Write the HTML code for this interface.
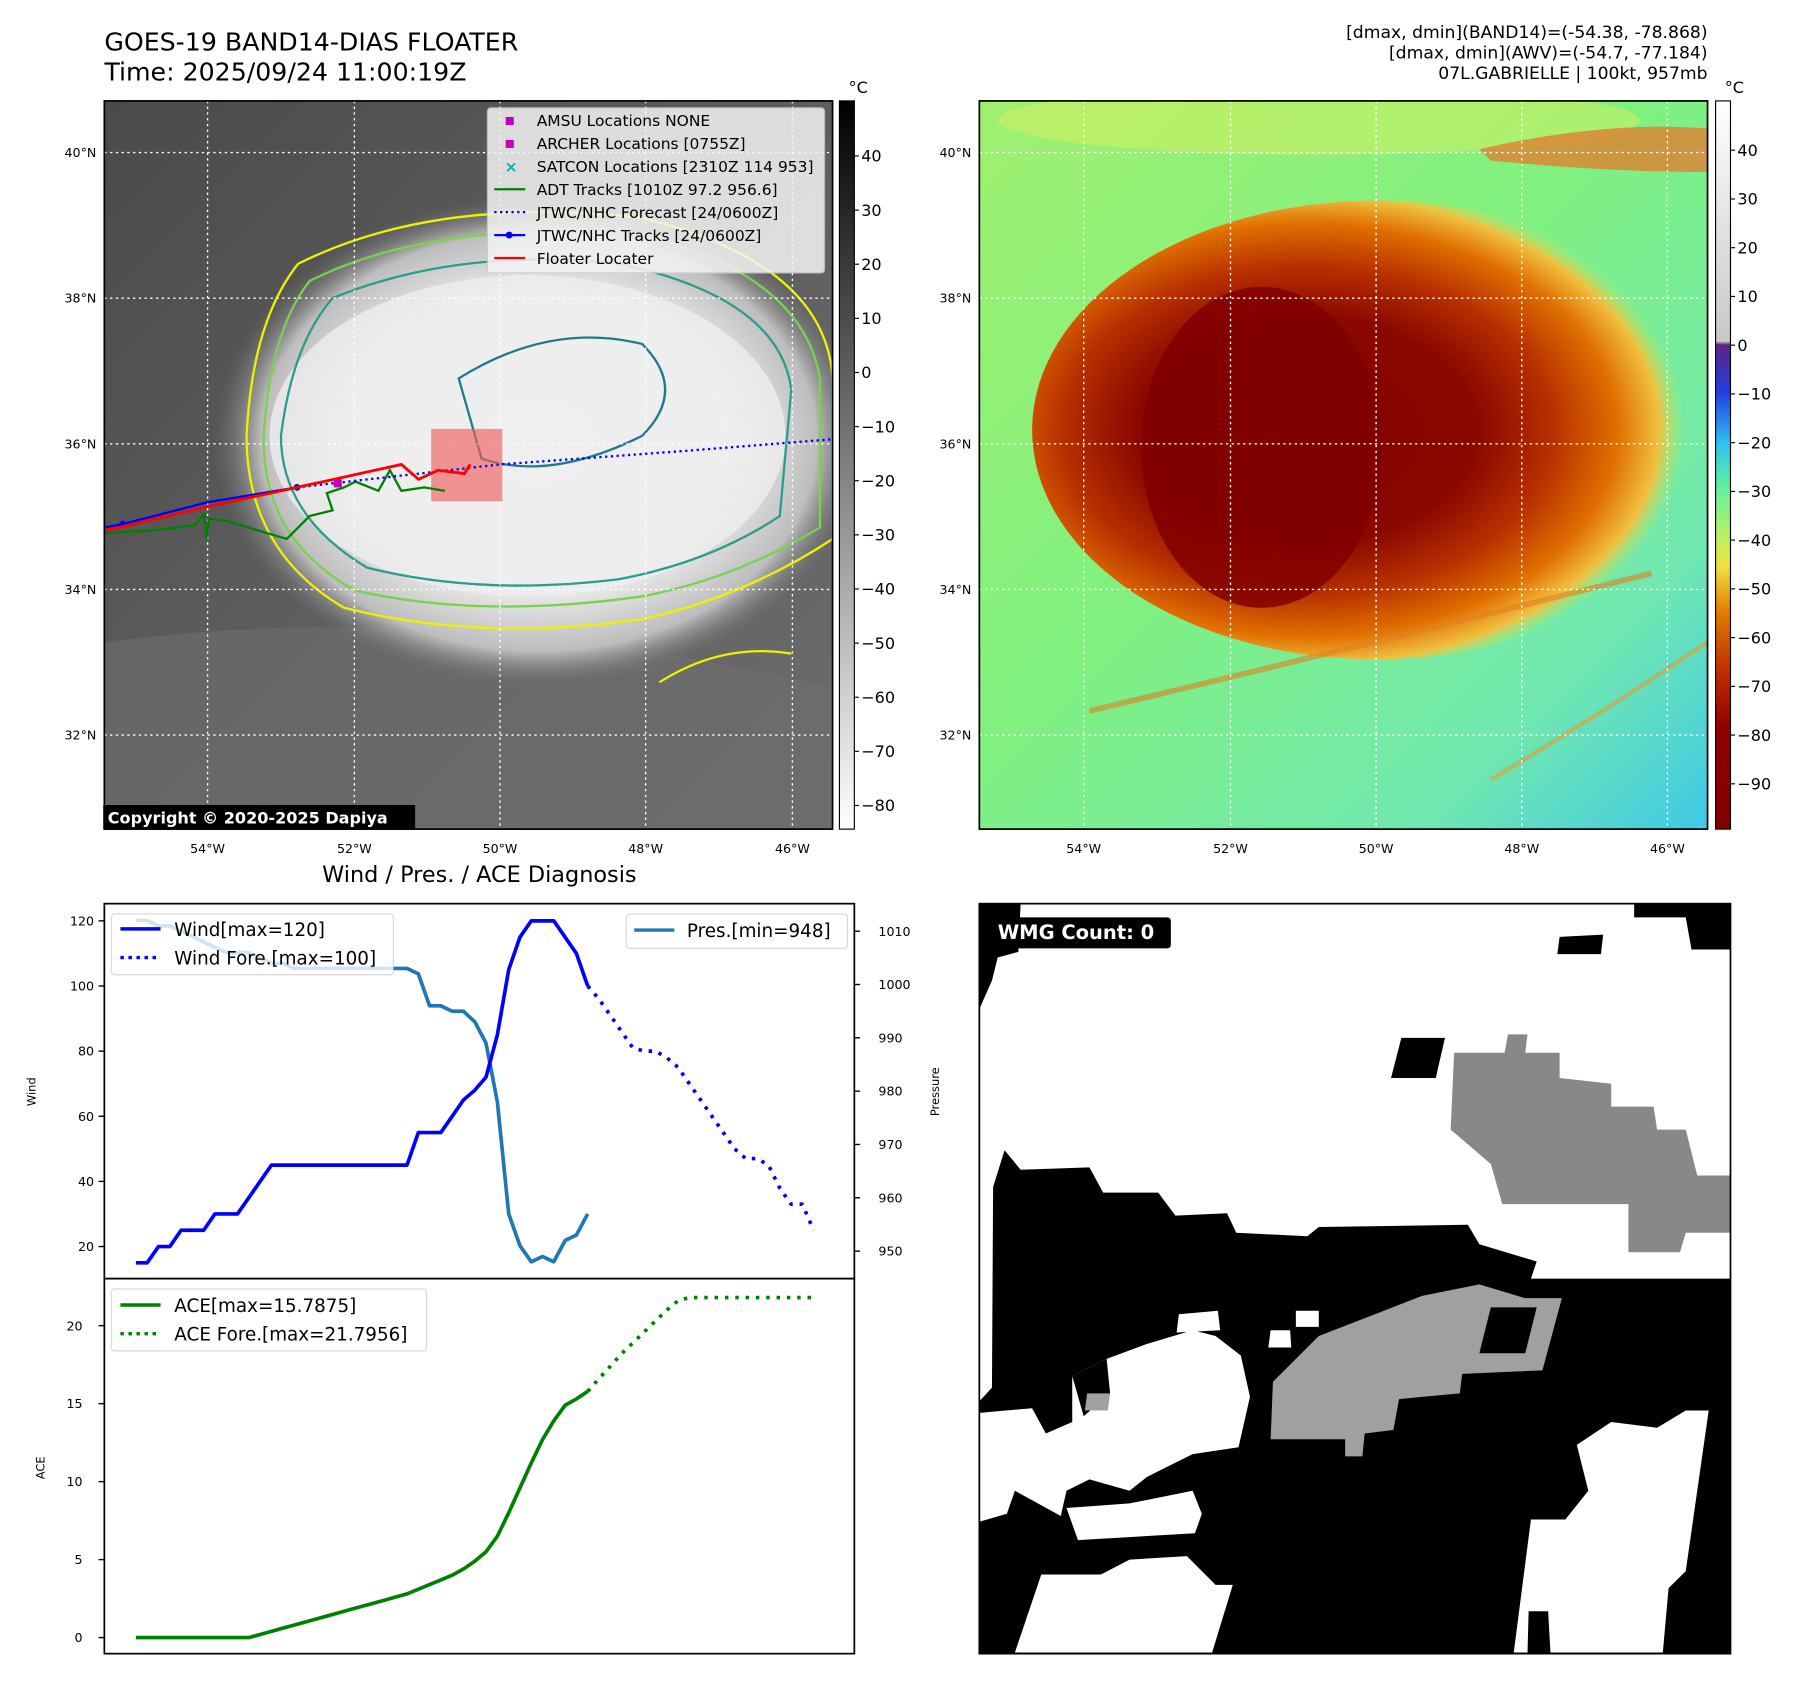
<!DOCTYPE html>
<html><head><meta charset="utf-8">
<style>
html,body{margin:0;padding:0;background:#fff;}
svg{display:block;font-family:"DejaVu Sans","Liberation Sans",sans-serif;}
</style></head>
<body>
<svg id="fig" width="1797" height="1690" viewBox="0 0 1567 1473.7" xmlns="http://www.w3.org/2000/svg">
<defs>
  <radialGradient id="cloudG" cx="0.5" cy="0.5" r="0.5">
    <stop offset="0" stop-color="#f4f4f4"/>
    <stop offset="0.6" stop-color="#ececec"/>
    <stop offset="0.85" stop-color="#bdbdbd"/>
    <stop offset="1" stop-color="#6a6a6a" stop-opacity="0"/>
  </radialGradient>
  <linearGradient id="bgL" x1="0" y1="0" x2="1" y2="1">
    <stop offset="0" stop-color="#4a4a4a"/>
    <stop offset="0.5" stop-color="#5e5e5e"/>
    <stop offset="1" stop-color="#6c6c6c"/>
  </linearGradient>
  <linearGradient id="bgR" x1="0" y1="0" x2="1" y2="1">
    <stop offset="0" stop-color="#a0f070"/>
    <stop offset="0.45" stop-color="#80f080"/>
    <stop offset="0.8" stop-color="#70e8b0"/>
    <stop offset="1" stop-color="#40c8e8"/>
  </linearGradient>
  <radialGradient id="hotG" cx="0.4" cy="0.5" r="0.55">
    <stop offset="0" stop-color="#800000"/>
    <stop offset="0.45" stop-color="#8a0800"/>
    <stop offset="0.65" stop-color="#b83000"/>
    <stop offset="0.82" stop-color="#e07000"/>
    <stop offset="0.93" stop-color="#f0c040"/>
    <stop offset="1" stop-color="#b0f070" stop-opacity="0"/>
  </radialGradient>
  <linearGradient id="cbL" x1="0" y1="0" x2="0" y2="1">
    <stop offset="0" stop-color="#000"/>
    <stop offset="1" stop-color="#fff"/>
  </linearGradient>
  <linearGradient id="cbR" x1="0" y1="0" x2="0" y2="1">
    <stop offset="0" stop-color="#ffffff"/>
    <stop offset="0.33" stop-color="#c8c8c8"/>
    <stop offset="0.335" stop-color="#602080"/>
    <stop offset="0.4" stop-color="#2040e0"/>
    <stop offset="0.47" stop-color="#30c0f0"/>
    <stop offset="0.53" stop-color="#60f0a0"/>
    <stop offset="0.6" stop-color="#c0f060"/>
    <stop offset="0.64" stop-color="#f0e040"/>
    <stop offset="0.7" stop-color="#e08000"/>
    <stop offset="0.78" stop-color="#c03000"/>
    <stop offset="0.86" stop-color="#900000"/>
    <stop offset="1" stop-color="#800000"/>
  </linearGradient>
  <clipPath id="clipL"><rect x="91" y="88" width="635" height="635"/></clipPath>
  <clipPath id="clipR"><rect x="854" y="88" width="635" height="635"/></clipPath>
</defs>

<text x="91" y="44" font-size="22">GOES-19 BAND14-DIAS FLOATER</text>
<text x="91" y="70" font-size="22">Time: 2025/09/24 11:00:19Z</text>
<g font-size="15" text-anchor="end">
<text x="1489" y="33">[dmax, dmin](BAND14)=(-54.38, -78.868)</text>
<text x="1489" y="51">[dmax, dmin](AWV)=(-54.7, -77.184)</text>
<text x="1489" y="69">07L.GABRIELLE | 100kt, 957mb</text>
</g>

<!-- LEFT MAP -->
<g clip-path="url(#clipL)">
  <rect x="91" y="88" width="635" height="635" fill="url(#bgL)"/>
  <path d="M91 560 Q400 520 726 600 L726 723 L91 723Z" fill="#6e6e6e" opacity="0.6"/>
  <ellipse cx="470" cy="385" rx="285" ry="215" fill="url(#cloudG)"/>
  <ellipse cx="460" cy="380" rx="225" ry="140" fill="#eeeeee" opacity="0.8"/>
  <path d="M260 230 Q380 170 560 190 Q720 230 726 330 L726 470 Q650 520 560 540 Q420 560 300 530 Q215 480 215 380 Q220 280 260 230Z" fill="none" stroke="#f0f000" stroke-width="2"/>
  <path d="M270 245 Q380 190 560 205 Q700 240 715 330 L715 460 Q640 505 560 520 Q420 540 310 515 Q228 470 230 380 Q235 290 270 245Z" fill="none" stroke="#7ad050" stroke-width="2"/>
  <path d="M290 260 Q400 215 540 230 Q680 260 690 340 L680 450 Q620 490 540 505 Q420 520 320 495 Q245 450 245 380 Q255 300 290 260Z" fill="none" stroke="#2a9d8f" stroke-width="2"/>
  <path d="M400 330 Q480 280 560 300 Q600 340 560 380 Q480 420 420 400 Z" fill="none" stroke="#1f7a8c" stroke-width="2"/>
  <path d="M575 595 Q630 560 690 570" fill="none" stroke="#f0f000" stroke-width="2"/>
  <g stroke="#fff" stroke-dasharray="2,3" stroke-width="1.2">
    <line x1="181" y1="88" x2="181" y2="723"/><line x1="309" y1="88" x2="309" y2="723"/><line x1="436" y1="88" x2="436" y2="723"/><line x1="563" y1="88" x2="563" y2="723"/><line x1="691" y1="88" x2="691" y2="723"/>
    <line x1="91" y1="133" x2="726" y2="133"/><line x1="91" y1="260" x2="726" y2="260"/><line x1="91" y1="387" x2="726" y2="387"/><line x1="91" y1="514" x2="726" y2="514"/><line x1="91" y1="641" x2="726" y2="641"/>
  </g>
  <rect x="376" y="374" width="62" height="63" fill="#f06060" opacity="0.65"/>
  <polyline points="91,465 140,462 170,458 178,448 180,470 182,452 200,455 250,470 270,450 290,445 285,430 300,425 310,420 330,428 340,410 350,428 370,425 388,428" fill="none" stroke="#008000" stroke-width="2"/>
  <polyline points="91,460 107,457 181,438 259,425" fill="none" stroke="#0000ff" stroke-width="2"/>
  <circle cx="107" cy="457" r="3" fill="#00f"/><circle cx="259" cy="425" r="3" fill="#00f"/>
  <polyline points="259,425 436,405 600,393 726,383" fill="none" stroke="#0000ff" stroke-width="2" stroke-dasharray="2,3"/>
  <polyline points="91,463 180,442 282,420 350,405 365,418 382,410 405,413 410,405" fill="none" stroke="#ff0000" stroke-width="2.5"/>
  <rect x="291" y="418" width="7" height="7" fill="#c000c0"/>
</g>
<rect x="91" y="88" width="635" height="635" fill="none" stroke="#000" stroke-width="1.5"/>
<g font-size="13.5">
  <rect x="425" y="94" width="294" height="144" fill="#f4f4f4" opacity="0.85" stroke="#ccc" rx="3"/>
  <rect x="441" y="102" width="7" height="7" fill="#c000c0"/><text x="468" y="110">AMSU Locations NONE</text>
  <rect x="441" y="122" width="7" height="7" fill="#c000c0"/><text x="468" y="130">ARCHER Locations [0755Z]</text>
  <text x="440" y="150" fill="#00b0b0" font-weight="bold">×</text><text x="468" y="150">SATCON Locations [2310Z 114 953]</text>
  <line x1="431" y1="165" x2="458" y2="165" stroke="#008000" stroke-width="2"/><text x="468" y="170">ADT Tracks [1010Z 97.2 956.6]</text>
  <line x1="431" y1="185" x2="458" y2="185" stroke="#00f" stroke-width="2" stroke-dasharray="2,3"/><text x="468" y="190">JTWC/NHC Forecast [24/0600Z]</text>
  <line x1="431" y1="205" x2="458" y2="205" stroke="#00f" stroke-width="2"/><circle cx="444" cy="205" r="3" fill="#00f"/><text x="468" y="210">JTWC/NHC Tracks [24/0600Z]</text>
  <line x1="431" y1="225" x2="458" y2="225" stroke="#f00" stroke-width="2"/><text x="468" y="230">Floater Locater</text>
</g>
<rect x="90" y="702" width="272" height="21" fill="#000"/>
<text x="94" y="718" font-size="14" font-weight="bold" fill="#fff">Copyright © 2020-2025 Dapiya</text>
<g font-size="11">
  <text x="181" y="744" text-anchor="middle">54°W</text><text x="309" y="744" text-anchor="middle">52°W</text><text x="436" y="744" text-anchor="middle">50°W</text><text x="563" y="744" text-anchor="middle">48°W</text><text x="691" y="744" text-anchor="middle">46°W</text>
  <text x="84" y="137" text-anchor="end">40°N</text><text x="84" y="264" text-anchor="end">38°N</text><text x="84" y="391" text-anchor="end">36°N</text><text x="84" y="518" text-anchor="end">34°N</text><text x="84" y="645" text-anchor="end">32°N</text>
</g>
<g>
  <rect x="732" y="88" width="13" height="635" fill="url(#cbL)" stroke="#000"/>
  <text x="740" y="81" font-size="14">°C</text>
  <g font-size="14" id="cbLticks"></g>
</g>

<!-- RIGHT MAP -->
<g clip-path="url(#clipR)">
  <rect x="854" y="88" width="635" height="635" fill="url(#bgR)"/>
  <ellipse cx="1150" cy="105" rx="280" ry="30" fill="#d8f060" opacity="0.5"/>
  <path d="M1290 130 Q1400 105 1489 112 L1489 150 Q1400 150 1300 140Z" fill="#e08030" opacity="0.8"/>
  <ellipse cx="1200" cy="375" rx="300" ry="200" fill="url(#hotG)"/>
  <ellipse cx="1100" cy="390" rx="105" ry="140" fill="#800000" opacity="0.85"/>
  <path d="M950 620 Q1200 560 1440 500" fill="none" stroke="#e08020" stroke-width="5" opacity="0.6"/>
  <path d="M1300 680 Q1400 620 1489 560" fill="none" stroke="#e0a030" stroke-width="4" opacity="0.6"/>
  <g stroke="#fff" stroke-dasharray="2,3" stroke-width="1.2">
    <line x1="945" y1="88" x2="945" y2="723"/><line x1="1073" y1="88" x2="1073" y2="723"/><line x1="1200" y1="88" x2="1200" y2="723"/><line x1="1327" y1="88" x2="1327" y2="723"/><line x1="1454" y1="88" x2="1454" y2="723"/>
    <line x1="854" y1="133" x2="1489" y2="133"/><line x1="854" y1="260" x2="1489" y2="260"/><line x1="854" y1="387" x2="1489" y2="387"/><line x1="854" y1="514" x2="1489" y2="514"/><line x1="854" y1="641" x2="1489" y2="641"/>
  </g>
</g>
<rect x="854" y="88" width="635" height="635" fill="none" stroke="#000" stroke-width="1.5"/>
<g font-size="11">
  <text x="945" y="744" text-anchor="middle">54°W</text><text x="1073" y="744" text-anchor="middle">52°W</text><text x="1200" y="744" text-anchor="middle">50°W</text><text x="1327" y="744" text-anchor="middle">48°W</text><text x="1454" y="744" text-anchor="middle">46°W</text>
  <text x="847" y="137" text-anchor="end">40°N</text><text x="847" y="264" text-anchor="end">38°N</text><text x="847" y="391" text-anchor="end">36°N</text><text x="847" y="518" text-anchor="end">34°N</text><text x="847" y="645" text-anchor="end">32°N</text>
</g>
<g>
  <rect x="1496" y="88" width="13" height="635" fill="url(#cbR)" stroke="#000"/>
  <text x="1504" y="81" font-size="14">°C</text>
  <g font-size="14" id="cbRticks"></g>
</g>

<!-- DIAGNOSIS CHART -->
<text x="418" y="769" font-size="19.5" text-anchor="middle">Wind / Pres. / ACE Diagnosis</text>
<g id="chart"></g>
<rect x="91" y="788" width="654" height="327" fill="none" stroke="#000" stroke-width="1.5"/>
<rect x="91" y="1115" width="654" height="327" fill="none" stroke="#000" stroke-width="1.5"/>
<text transform="translate(31,952) rotate(-90)" font-size="10" text-anchor="middle">Wind</text>
<text transform="translate(819,952) rotate(-90)" font-size="10" text-anchor="middle">Pressure</text>
<text transform="translate(39,1280) rotate(-90)" font-size="10" text-anchor="middle">ACE</text>

<g font-size="16">
  <rect x="97" y="797" width="246" height="53" fill="#fff" opacity="0.8" stroke="#ccc" rx="3"/>
  <line x1="105" y1="810" x2="140" y2="810" stroke="#00f" stroke-width="3"/><text x="152" y="816">Wind[max=120]</text>
  <line x1="105" y1="835" x2="140" y2="835" stroke="#00f" stroke-width="3" stroke-dasharray="3,4"/><text x="152" y="841">Wind Fore.[max=100]</text>
</g>
<g font-size="16">
  <rect x="546" y="797" width="193" height="30" fill="#fff" opacity="0.8" stroke="#ccc" rx="3"/>
  <line x1="553" y1="811" x2="588" y2="811" stroke="#1f77b4" stroke-width="3"/><text x="599" y="817">Pres.[min=948]</text>
</g>
<g font-size="16">
  <rect x="97" y="1124" width="275" height="54" fill="#fff" opacity="0.8" stroke="#ccc" rx="3"/>
  <line x1="105" y1="1138" x2="140" y2="1138" stroke="#008000" stroke-width="3"/><text x="152" y="1144">ACE[max=15.7875]</text>
  <line x1="105" y1="1163" x2="140" y2="1163" stroke="#008000" stroke-width="3" stroke-dasharray="3,4"/><text x="152" y="1169">ACE Fore.[max=21.7956]</text>
</g>

<!-- WMG PANEL -->
<g>
  <rect x="854" y="788" width="655" height="654" fill="#fff"/>
  <polygon fill="#000" points="854,788 890,788 888,830 870,835 865,855 854,880"/>
  <polygon fill="#000" points="1425,788 1509,788 1509,828 1475,828 1470,800 1425,800"/>
  <polygon fill="#000" points="1360,817 1398,815 1396,832 1358,832"/>
  <polygon fill="#000" points="1222,905 1260,905 1252,940 1213,940"/>
  <polygon fill="#888" points="1268,918 1312,918 1315,902 1332,902 1330,918 1360,918 1360,940 1405,945 1405,965 1442,965 1445,985 1470,985 1480,1025 1509,1025 1509,1075 1470,1075 1465,1092 1420,1092 1420,1050 1310,1050 1300,1015 1265,985"/>
  <polygon fill="#000" points="876,1003 890,1020 950,1018 962,1040 1010,1040 1025,1060 1070,1058 1078,1075 1140,1078 1150,1070 1280,1068 1290,1085 1340,1100 1335,1115 1509,1115 1509,1442 854,1442 854,1222 865,1210 866,1035"/>
  <polygon fill="#fff" points="854,1232 900,1228 912,1250 935,1240 935,1200 965,1185 1000,1172 1040,1160 1060,1165 1082,1182 1090,1218 1080,1262 1040,1268 1000,1288 985,1300 950,1290 930,1300 925,1322 885,1300 878,1320 854,1327"/>
  <polygon fill="#000" points="935,1200 965,1185 968,1215 945,1235"/>
  <polygon fill="#fff" points="1028,1146 1062,1143 1064,1160 1026,1162"/>
  <polygon fill="#fff" points="1108,1160 1125,1160 1126,1175 1106,1175"/>
  <polygon fill="#fff" points="1130,1143 1150,1143 1150,1157 1130,1157"/>
  <polygon fill="#a0a0a0" points="1110,1205 1150,1165 1240,1130 1290,1120 1330,1132 1362,1132 1345,1195 1275,1198 1273,1215 1220,1220 1215,1247 1190,1250 1188,1270 1173,1270 1173,1255 1108,1255"/>
  <polygon fill="#000" points="1300,1140 1340,1140 1330,1180 1290,1180"/>
  <polygon fill="#a0a0a0" points="948,1215 968,1215 966,1230 946,1230"/>
  <polygon fill="#fff" points="930,1315 985,1311 1040,1300 1048,1320 1042,1337 940,1343"/>
  <polygon fill="#fff" points="885,1441 908,1373 960,1373 985,1360 1035,1357 1060,1382 1075,1382 1057,1441"/>
  <polygon fill="#fff" points="1320,1441 1335,1325 1365,1325 1385,1300 1375,1260 1405,1240 1445,1245 1470,1230 1490,1230 1470,1370 1455,1385 1450,1441 1352,1441 1350,1405 1333,1405 1332,1441"/>
  <rect x="854" y="788" width="655" height="654" fill="none" stroke="#000" stroke-width="1.5"/>
  <rect x="862" y="800" width="159" height="27" rx="3" fill="#000"/>
  <text x="870" y="819" font-size="17" font-weight="bold" fill="#fff">WMG Count: 0</text>
</g>

<script>
const windObs = [15,15,20,20,25,25,25,30,30,30,35,40,45,45,45,45,45,45,45,45,45,45,45,45,45,55,55,55,60,65,68,72,85,105,115,120,120,120,115,110,100];
const windFore = [100,96,91,86,81,80,80,78,75,70,65,60,55,50,47,47,45,38,33,33,25];
const presObs = [1012,1012,1011,1011,1010,1009,1008,1007,1006,1006,1006,1005,1004,1004,1003,1003,1003,1003,1003,1003,1003,1003,1003,1003,1003,1002,996,996,995,995,993,989,978,957,951,948,949,948,952,953,957];
const aceObs = [0,0,0,0,0,0,0,0,0,0,0,0.2,0.4,0.6,0.8,1.0,1.2,1.4,1.6,1.8,2.0,2.2,2.4,2.6,2.8,3.1,3.4,3.7,4.0,4.4,4.9,5.5,6.5,8.0,9.6,11.2,12.7,13.9,14.9,15.3,15.79];
const aceFore = [15.79,16.6,17.4,18.2,18.9,19.6,20.3,21.0,21.6,21.8,21.8,21.8,21.8,21.8,21.8,21.8,21.8,21.8,21.8,21.8,21.8];
const windTicks = [20,40,60,80,100,120];
const presTicks = [950,960,970,980,990,1000,1010];
const aceTicks = [0,5,10,15,20];
const cbLTicks = [40,30,20,10,0,-10,-20,-30,-40,-50,-60,-70,-80];
const cbRTicks = [40,30,20,10,0,-10,-20,-30,-40,-50,-60,-70,-80,-90];

const NS = 'http://www.w3.org/2000/svg';
const xS = i => 118.5 + 9.85 * i;
const windY = v => 1087 - (v - 20) * 2.84;
const presY = p => 812 + (1010 - p) * 4.65;
const aceY = a => 1428 - a * 13.6;
const chart = document.getElementById('chart');

function mk(tag, attrs, parent) {
  const e = document.createElementNS(NS, tag);
  for (const k in attrs) e.setAttribute(k, attrs[k]);
  (parent || chart).appendChild(e);
  return e;
}
function line(vals, off, yf, color, dash, name) {
  const pts = vals.map((v, i) => xS(i + off).toFixed(1) + ',' + yf(v).toFixed(1)).join(' ');
  const p = mk('polyline', {points: pts, fill: 'none', stroke: color, 'stroke-width': 3.2, 'stroke-dasharray': dash, 'stroke-linejoin': 'round'});
  
  
}
function tick(x1, y, x2, label, tx, anchor, name) {
  mk('line', {x1: x1, y1: y, x2: x2, y2: y, stroke: '#000', 'stroke-width': 1.2});
  const t = mk('text', {x: tx, y: y + 4, 'font-size': 11, 'text-anchor': anchor});
  t.textContent = label;
  
  
}
windTicks.forEach(v => tick(86, windY(v), 91, v, 82, 'end', 'wind-tick-label'));
presTicks.forEach(v => tick(745, presY(v), 750, v, 766, 'start', 'pressure-tick-label'));
aceTicks.forEach(v => tick(86, aceY(v), 91, v, 72, 'end', 'ace-tick-label'));

line(presObs, 0, presY, '#1f77b4', 'none', 'pressure-line');
line(windObs, 0, windY, '#0000ff', 'none', 'wind-line');
line(windFore, windObs.length - 1, windY, '#0000ff', '3,6', 'wind-forecast-line');
line(aceObs, 0, aceY, '#008000', 'none', 'ace-line');
line(aceFore, aceObs.length - 1, aceY, '#008000', '3,6', 'ace-forecast-line');

const gl = document.getElementById('cbLticks');
cbLTicks.forEach(v => {
  const y = 136 + (40 - v) * 4.72;
  mk('line', {x1: 745, y1: y, x2: 749, y2: y, stroke: '#000'}, gl);
  const t = mk('text', {x: 751, y: y + 5}, gl);
  t.textContent = v < 0 ? '\u2212' + (-v) : v;
  
  
});
const gr = document.getElementById('cbRticks');
cbRTicks.forEach(v => {
  const y = 131 + (40 - v) * 4.25;
  mk('line', {x1: 1509, y1: y, x2: 1513, y2: y, stroke: '#000'}, gr);
  const t = mk('text', {x: 1515, y: y + 5}, gr);
  t.textContent = v < 0 ? '\u2212' + (-v) : v;
  
  
});
</script>
</svg>
</body></html>
